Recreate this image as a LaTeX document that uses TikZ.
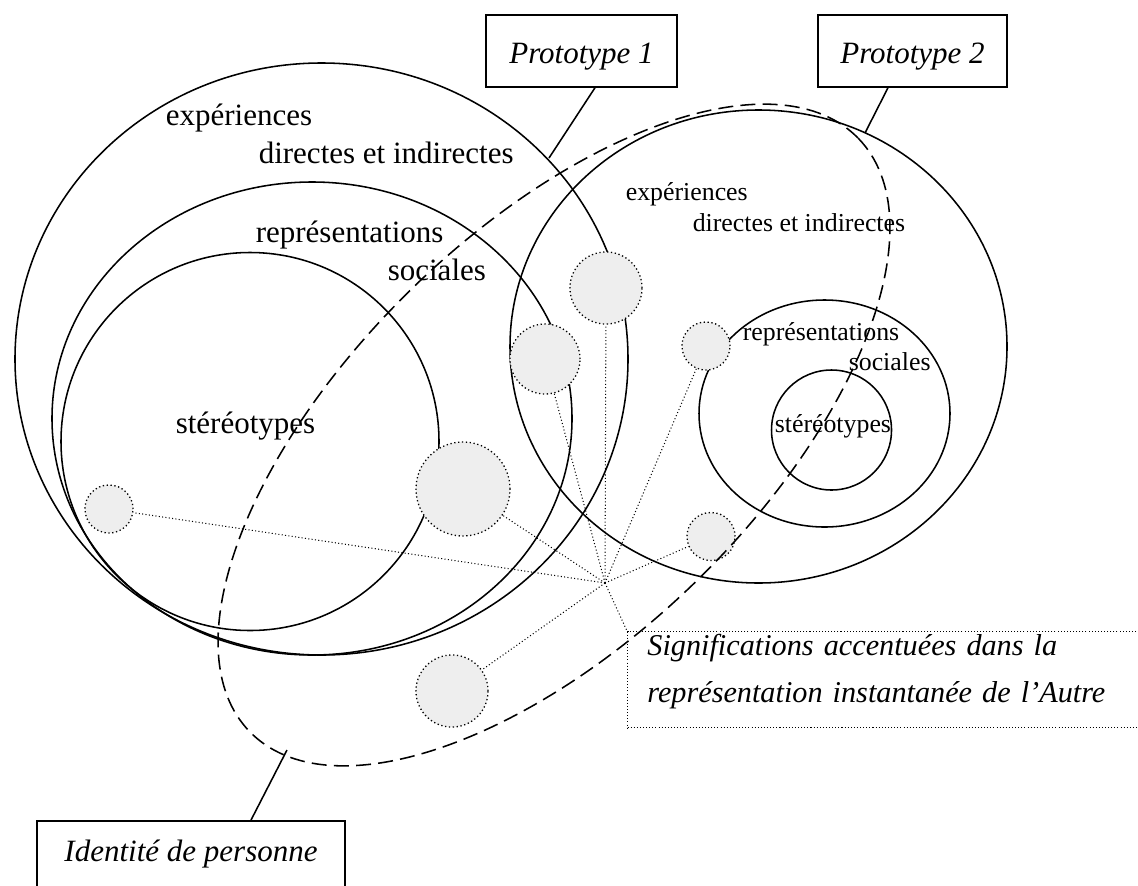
\documentclass[tikz,border=0pt]{standalone}
\usepackage{fontspec}
\setmainfont{Liberation Serif}
\usetikzlibrary{positioning}

\begin{document}
\begin{tikzpicture}[x=0.387pt, y=-0.387pt, line width=0.6pt,
    bigtxt/.style={inner sep=0pt, anchor=base west, font=\fontsize{12}{14}\selectfont},
    smalltxt/.style={inner sep=0pt, anchor=base west, font=\fontsize{10}{12}\selectfont},
    labelbox/.style={draw, inner xsep=0pt, inner ysep=0pt, anchor=base, text height=18.6pt, text depth=9.3pt, font=\itshape\fontsize{12}{14}\selectfont},
    spot/.style={circle, draw, line width=0.5pt, dash pattern=on 0.5pt off 1pt, fill=gray!13, inner sep=0pt},
    ray/.style={line width=0.4pt, dash pattern=on 0.4pt off 0.9pt},
    person/.style={dash pattern=on 5.8pt off 2.8pt}]
    \useasboundingbox (0,0) rectangle (1138,885);

    % prototype 1
    \draw (321.5,359) ellipse [x radius=306.5, y radius=296];
    \draw (312,418.5) ellipse [x radius=260, y radius=236.5];
    \draw (250,441.5) circle [radius=189];
    % prototype 2
    \draw (758.5,346.5) ellipse [x radius=248.5, y radius=236.5];
    \draw (824.5,413.5) ellipse [x radius=125.5, y radius=113.5];
    \draw (831.5,430) circle [radius=60];

    % accentuated meanings
    \node[spot, minimum size=18.6pt] (SpotLeft)   at (109,509) {};
    \node[spot, minimum size=36.4pt] (SpotBig)    at (463,489) {};
    \node[spot, minimum size=27.1pt] (SpotMid)    at (545,359) {};
    \node[spot, minimum size=27.9pt] (SpotHigh)   at (606,288) {};
    \node[spot, minimum size=18.6pt] (SpotRight)  at (706,346) {};
    \node[spot, minimum size=18.6pt] (SpotLow)    at (711,536.5) {};
    \node[spot, minimum size=27.9pt] (SpotBottom) at (452,691) {};

    % identity of the person
    \draw[person, rotate around={44.3:(554,435)}] (554,435) ellipse [x radius=425, y radius=204];

    \node[bigtxt] (Exp1)  at (165,125) {expériences};
    \node[bigtxt] (Dir1)  at (258,163) {directes et indirectes};
    \node[bigtxt] (Rep1)  at (255,242) {représentations};
    \node[bigtxt] (Soc1)  at (387,280) {sociales};
    \node[bigtxt] (Ster1) at (175,433) {stéréotypes};

    \node[smalltxt] (Exp2)  at (625,200) {expériences};
    \node[smalltxt] (Dir2)  at (692,231) {directes et indirectes};
    \node[smalltxt] (Rep2)  at (742,340) {représentations};
    \node[smalltxt] (Soc2)  at (848,370) {sociales};
    \node[smalltxt] (Ster2) at (774,432) {stéréotypes};

    \node[labelbox, minimum width=73.9pt] (Proto1) at (581.5,63) {Prototype 1};
    \node[labelbox, minimum width=73.1pt] (Proto2) at (912.5,63) {Prototype 2};
    \node[labelbox, minimum width=119.2pt, text height=15.5pt, text depth=13.5pt] (Identity) at (191,861) {Identité de personne};
    \node[draw, line width=0.4pt, dash pattern=on 0.4pt off 0.8pt, anchor=north west, inner xsep=7.7pt, inner ysep=0pt,
          text width=206pt, align=left, text height=9.3pt, text depth=27.9pt,
          font=\itshape\fontsize{11.7}{18.2}\selectfont] (Signif) at (627,631)
          {Significations accentuées dans la\\représentation instantanée de l’Autre};

    \coordinate (Hub) at (605,583);
    \coordinate (P1Tip) at (549,158);
    \coordinate (P2Tip) at (865,133);
    \coordinate (IdTip) at (287,750);

    \path (Hub) edge[ray] (SpotLeft)
                edge[ray] (SpotBig)
                edge[ray] (SpotMid)
                edge[ray] (SpotHigh)
                edge[ray] (SpotRight)
                edge[ray] (SpotLow)
                edge[ray] (SpotBottom)
                edge[ray] (Signif.north west);

    \draw ([xshift=5.2pt]Proto1.south) -- (P1Tip);
    \draw ([xshift=-9.5pt]Proto2.south) -- (P2Tip);
    \draw ([xshift=23.2pt]Identity.north) -- (IdTip);
\end{tikzpicture}
\end{document}
